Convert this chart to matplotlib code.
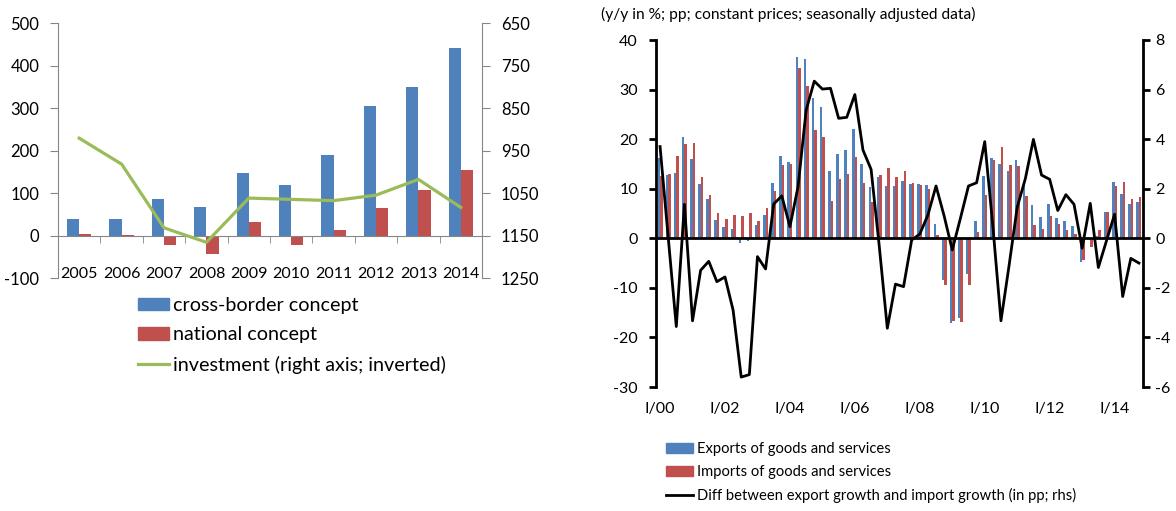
import numpy as np
import matplotlib
matplotlib.use('Agg')
import matplotlib.pyplot as plt
from matplotlib.patches import Patch
from matplotlib.lines import Line2D

plt.rcParams['font.family'] = ['Lato', 'DejaVu Sans']
plt.rcParams['axes.unicode_minus'] = False

BLUE = '#4F81BD'
RED = '#C0504D'
GREEN = '#9BBB59'
GREY = '#868686'

# left panel
years = ['2005', '2006', '2007', '2008', '2009', '2010', '2011', '2012', '2013', '2014']
cross_border = [38, 39, 87, 66, 148, 120, 190, 305, 350, 442]
national = [4, 2, -22, -44, 31, -22, 12, 64, 106, 155]
investment = [921, 982, 1132, 1166, 1062, 1065, 1068, 1055, 1018, 1084]

# right panel, quarterly I/00 .. IV/14
exports = [16.1, 12.8, 13.2, 20.4, 15.9, 11.0, 7.9, 3.6, 2.3, 1.8,
           -1.0, -0.5, 2.7, 4.7, 11.2, 16.6, 15.4, 36.6, 36.2, 28.3,
           26.4, 13.6, 17.0, 17.9, 22.1, 15.0, 10.4, 12.3, 10.6, 10.6,
           11.6, 11.0, 10.9, 10.8, 2.9, -8.4, -17.1, -16.1, -7.3, 3.4,
           12.6, 16.1, 15.0, 13.5, 15.8, 11.0, 6.7, 4.2, 6.9, 4.0,
           3.4, 2.5, -4.7, -0.2, 0.5, 5.4, 11.3, 8.9, 6.9, 7.4]
imports = [12.6, 13.0, 16.5, 19.0, 19.2, 12.3, 8.7, 5.2, 3.8, 4.7,
           4.5, 5.2, 3.4, 6.1, 9.6, 14.8, 15.0, 34.4, 30.8, 21.8,
           20.4, 7.6, 12.0, 13.0, 16.3, 11.2, 7.3, 12.8, 14.1, 12.4,
           13.6, 11.1, 10.8, 9.9, 0.7, -9.4, -16.7, -16.9, -9.4, 1.2,
           8.7, 15.7, 18.4, 14.8, 14.5, 8.5, 2.7, 1.8, 4.5, 2.9,
           1.6, 0.9, -4.4, -1.7, 1.7, 5.4, 10.6, 11.4, 7.9, 8.3]
diff = [3.70, 0.05, -3.56, 1.37, -3.33, -1.29, -0.93, -1.75, -1.56, -2.9,
        -5.6, -5.5, -0.74, -1.24, 1.38, 1.71, 0.47, 2.08, 5.17, 6.34,
        6.02, 6.05, 4.84, 4.88, 5.8, 3.56, 2.78, -0.3, -3.63, -1.85,
        -1.95, -0.07, 0.17, 0.94, 2.11, 0.9, -0.47, 0.8, 2.11, 2.24,
        3.9, 0.5, -3.33, -1.1, 1.25, 2.4, 3.99, 2.55, 2.38, 1.12,
        1.76, 1.37, -0.4, 1.41, -1.18, -0.1, 0.97, -2.35, -0.81, -1.0]
quarter_labels = ['I/00', 'I/02', 'I/04', 'I/06', 'I/08', 'I/10', 'I/12', 'I/14']

W, H = 1176, 511
fig = plt.figure(figsize=(W / 100, H / 100), dpi=100)

# ---------- left chart ----------
ax1 = fig.add_axes([58 / W, 1 - 278 / H, 424 / W, 255 / H])
x = np.arange(len(years))
bw = 0.29
ax1.bar(x - bw / 2, cross_border, bw, color=BLUE, zorder=2)
ax1.bar(x + bw / 2, national, bw, color=RED, zorder=2)
ax1.set_xlim(-0.5, len(years) - 0.5)
ax1.set_ylim(-100, 500)
ax1.set_yticks(range(-100, 501, 100))
ax1.spines['top'].set_visible(False)
ax1.spines['right'].set_visible(False)
ax1.spines['left'].set_color(GREY)
ax1.spines['bottom'].set_color(GREY)
ax1.spines['bottom'].set_position(('data', 0))
ax1.tick_params(axis='y', direction='out', length=5.5, color=GREY, pad=8, labelsize=12)
ax1.set_xticks(x)
ax1.set_xticklabels(years)
ax1.set_xticks(np.arange(-0.5, len(years), 1), minor=True)
ax1.tick_params(axis='x', which='major', length=0, pad=23, labelsize=11.5)
ax1.tick_params(axis='x', which='minor', length=5, color=GREY, direction='out')

ax1b = ax1.twinx()
ax1b.plot(x, investment, color=GREEN, lw=2.3, zorder=3)
ax1b.set_ylim(1250, 650)
ax1b.set_yticks(range(650, 1251, 100))
for s in ['top', 'left', 'bottom']:
    ax1b.spines[s].set_visible(False)
ax1b.spines['right'].set_color(GREY)
ax1b.tick_params(axis='y', direction='out', length=5.5, color=GREY, pad=8, labelsize=12)

left_handles = [Patch(color=BLUE), Patch(color=RED), Line2D([], [], color=GREEN, lw=2.3)]
fig.legend(left_handles,
           ['cross-border concept', 'national concept', 'investment (right axis; inverted)'],
           loc='upper left', bbox_to_anchor=(138 / W, 1 - 297 / H), frameon=False,
           fontsize=14.2, handlelength=1.55, handleheight=0.6, handletextpad=0.22,
           labelspacing=0.62, borderpad=0, borderaxespad=0)

# ---------- right chart ----------
ax2 = fig.add_axes([656 / W, 1 - 387 / H, 487 / W, 347 / H])
q = np.arange(len(exports))
qw = 0.31
ax2.bar(q - qw / 2, exports, qw, color=BLUE, zorder=2)
ax2.bar(q + qw / 2, imports, qw, color=RED, zorder=2)
ax2.axhline(0, color='black', lw=2, zorder=3)
ax2.set_xlim(-0.5, len(exports) - 0.5)
ax2.set_ylim(-30, 40)
ax2.set_yticks(range(-30, 41, 10))
for s in ['top', 'right', 'bottom']:
    ax2.spines[s].set_visible(False)
ax2.spines['left'].set_linewidth(2)
ax2.tick_params(axis='y', direction='out', length=5, width=2, pad=8, labelsize=11.5)
ax2.set_xticks(q[::8])
ax2.set_xticklabels(quarter_labels)
ax2.tick_params(axis='x', length=0, pad=11, labelsize=11.5)

ax2b = ax2.twinx()
ax2b.plot(q, diff, color='black', lw=2, zorder=4)
ax2b.set_ylim(-6, 8)
ax2b.set_yticks(range(-6, 9, 2))
for s in ['top', 'left', 'bottom']:
    ax2b.spines[s].set_visible(False)
ax2b.spines['right'].set_linewidth(2)
ax2b.tick_params(axis='y', direction='out', length=5, width=2, pad=4, labelsize=11.5)

fig.text(601 / W, 1 - 14 / H, '(y/y in %; pp; constant prices; seasonally adjusted data)',
         ha='left', va='center', fontsize=11.2)

right_handles = [Patch(color=BLUE), Patch(color=RED), Line2D([], [], color='black', lw=2)]
fig.legend(right_handles,
           ['Exports of goods and services', 'Imports of goods and services',
            'Diff between export growth and import growth (in pp; rhs)'],
           loc='upper left', bbox_to_anchor=(666 / W, 1 - 442 / H), frameon=False,
           fontsize=10.6, handlelength=1.8, handleheight=0.7, handletextpad=0.3,
           labelspacing=0.6, borderpad=0, borderaxespad=0)

fig.savefig('out.png', dpi=100)
